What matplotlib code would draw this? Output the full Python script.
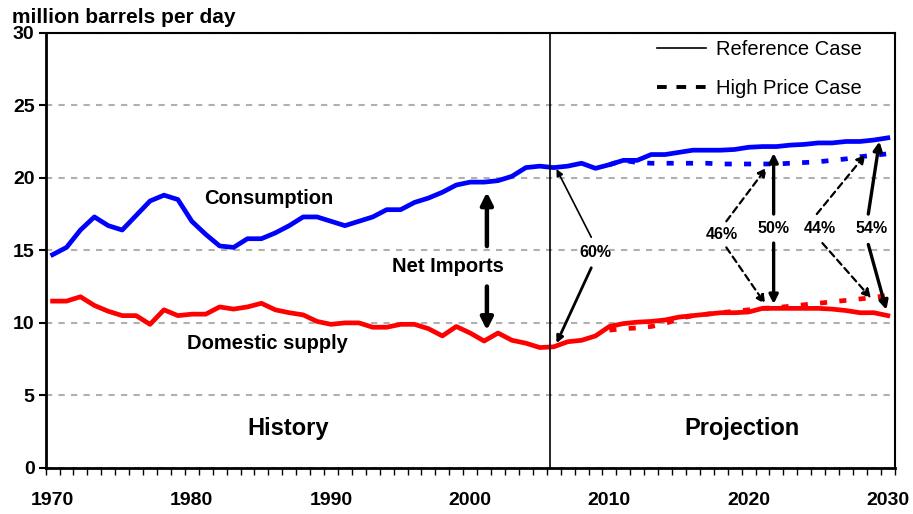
import matplotlib.pyplot as plt
import numpy as np
from matplotlib.lines import Line2D

plt.rcParams['font.family'] = ['Liberation Sans', 'DejaVu Sans']

# Reference case, 1970-2030
years = np.arange(1970, 2031)
consumption = [14.7, 15.2, 16.4, 17.3, 16.7, 16.4, 17.4, 18.4, 18.8, 18.5,
               17.0, 16.1, 15.3, 15.2, 15.8, 15.8, 16.2, 16.7, 17.3, 17.3,
               17.0, 16.7, 17.0, 17.3, 17.8, 17.8, 18.3, 18.6, 19.0, 19.5,
               19.7, 19.7, 19.8, 20.1, 20.7, 20.8,
               20.7, 20.8, 21.0, 20.65, 20.9, 21.2, 21.2, 21.6, 21.6, 21.75,
               21.9, 21.9, 21.9, 21.95, 22.1, 22.15, 22.15, 22.25, 22.3, 22.4,
               22.4, 22.5, 22.5, 22.6, 22.75]
domestic = [11.5, 11.5, 11.8, 11.2, 10.8, 10.5, 10.5, 9.9, 10.9, 10.5,
            10.6, 10.6, 11.1, 10.95, 11.1, 11.35, 10.9, 10.7, 10.55, 10.1,
            9.9, 10.0, 10.0, 9.7, 9.7, 9.9, 9.9, 9.6, 9.1, 9.75,
            9.3, 8.75, 9.3, 8.8, 8.6, 8.3,
            8.35, 8.7, 8.8, 9.1, 9.75, 9.95, 10.05, 10.1, 10.2, 10.4,
            10.5, 10.6, 10.7, 10.7, 10.75, 11.0, 11.0, 11.0, 11.0, 11.0,
            10.95, 10.85, 10.7, 10.7, 10.5]

# High price case, 2010-2030
hp_years = np.arange(2010, 2031)
hp_consumption = [20.9, 21.2, 21.05, 21.0, 21.0, 21.0, 21.0, 21.0, 20.95, 20.95,
                  20.95, 20.95, 20.95, 21.0, 21.05, 21.1, 21.2, 21.3, 21.45, 21.55,
                  21.65]
hp_domestic = [9.5, 9.6, 9.65, 9.75, 9.95, 10.3, 10.5, 10.6, 10.7, 10.8,
               10.9, 11.0, 11.05, 11.15, 11.25, 11.35, 11.45, 11.55, 11.65, 11.75,
               11.9]

history_end = 2005.75

# import share arrows: (label, label pos, [(start, end), ...], style)
share_notes = [
    ('60%', (2009.0, 14.85), [((2008.7, 15.9), (2006.2, 20.6)),
                              ((2008.7, 13.8), (2006.2, 8.6))], 'thin'),
    ('46%', (2018.1, 16.1), [((2018.4, 17.0), (2021.3, 20.7)),
                             ((2018.4, 15.2), (2021.2, 11.3))], 'dashed'),
    ('50%', (2021.8, 16.5), [((2021.8, 17.5), (2021.8, 21.7)),
                             ((2021.8, 15.5), (2021.8, 11.3))], 'solid'),
    ('44%', (2025.1, 16.5), [((2024.9, 17.5), (2028.4, 21.6)),
                             ((2025.3, 15.5), (2028.8, 11.7))], 'dashed'),
    ('54%', (2028.8, 16.5), [((2028.6, 17.5), (2029.4, 22.5)),
                             ((2028.6, 15.4), (2029.9, 10.9))], 'solid'),
]

fig = plt.figure(figsize=(9.13, 5.14), dpi=100)
ax = fig.add_axes([0.050, 0.0895, 0.930, 0.847])

ax.yaxis.grid(True, color='#b0b0b0', linestyle=(0, (3, 3)), linewidth=1.5)
ax.set_axisbelow(True)

ax.plot(years, consumption, color='#0000ff', lw=3.4, solid_joinstyle='round', zorder=3)
ax.plot(years, domestic, color='#ff0000', lw=3.4, solid_joinstyle='round', zorder=3)
ax.plot(hp_years, hp_consumption, color='#0000ff', lw=3.4, ls=(0, (1.5, 2.6)), zorder=3)
ax.plot(hp_years, hp_domestic, color='#ff0000', lw=3.4, ls=(0, (1.5, 2.6)), zorder=3)

ax.axvline(history_end, ymin=0, ymax=1, color='black', lw=1.2, zorder=4)

ax.set_xlim(1969.55, 2030.5)
ax.set_ylim(0, 30)
ax.set_xticks(np.arange(1970, 2031, 10))
ax.set_xticks(np.arange(1969.5, 2031, 1), minor=True)
ax.set_yticks(np.arange(0, 31, 5))
ax.tick_params(axis='x', which='major', length=0, pad=17, labelsize=14)
ax.tick_params(axis='x', which='minor', length=5, width=1, direction='out')
ax.tick_params(axis='y', length=5, width=1.5, direction='out', labelsize=14, pad=3)
for lab in ax.get_xticklabels() + ax.get_yticklabels():
    lab.set_fontweight('bold')
for s in ['left', 'bottom']:
    ax.spines[s].set_linewidth(2)
for s in ['top', 'right']:
    ax.spines[s].set_linewidth(1.5)

fig.text(0.013, 0.966, 'million barrels per day', fontsize=15, fontweight='bold',
         va='center')

ax.text(1985.5, 18.55, 'Consumption', fontsize=14.5, fontweight='bold', ha='center', va='center')
ax.text(1985.4, 8.55, 'Domestic supply', fontsize=14.5, fontweight='bold', ha='center', va='center')
ax.text(1986.9, 2.75, 'History', fontsize=17, fontweight='bold', ha='center', va='center')
ax.text(2019.5, 2.75, 'Projection', fontsize=17, fontweight='bold', ha='center', va='center')

# net imports
ax.text(1998.4, 13.9, 'Net Imports', fontsize=14.5, fontweight='bold', ha='center', va='center')
ax.annotate('', xy=(2001.2, 19.2), xytext=(2001.2, 13.9 + 1.2),
            arrowprops=dict(arrowstyle='-|>', lw=3.2, color='black', mutation_scale=18))
ax.annotate('', xy=(2001.2, 9.3), xytext=(2001.2, 13.9 - 1.2),
            arrowprops=dict(arrowstyle='-|>', lw=3.2, color='black', mutation_scale=18))

styles = {
    'thin': dict(lw=1.2, ls='-', ms=10),
    'solid': dict(lw=2.4, ls='-', ms=13),
    'dashed': dict(lw=1.6, ls=(0, (3, 2)), ms=13),
}
for label, pos, arrows, style in share_notes:
    st = styles[style]
    ax.text(pos[0], pos[1], label, fontsize=11.5, fontweight='bold', ha='center', va='center')
    for i, (start, end) in enumerate(arrows):
        lw = st['lw']
        if style == 'thin' and i == 1:
            lw = 2
        ax.annotate('', xy=end, xytext=start,
                    arrowprops=dict(arrowstyle='-|>', lw=lw, ls=st['ls'], color='black',
                                    mutation_scale=st['ms'], shrinkA=0, shrinkB=0))

handles = [Line2D([], [], color='black', lw=1.2),
           Line2D([], [], color='black', lw=2.8, ls=(0, (2.5, 2.5)))]
leg = ax.legend(handles, ['Reference Case', 'High Price Case'], loc='upper right',
                bbox_to_anchor=(0.968, 0.997), fontsize=14.5, frameon=True, fancybox=False,
                edgecolor='none', facecolor='white', framealpha=1, handlelength=2.4,
                handletextpad=0.5, borderaxespad=0.1, borderpad=0.2, labelspacing=1.0)
leg.set_zorder(5)

plt.savefig('out.png', dpi=100)
